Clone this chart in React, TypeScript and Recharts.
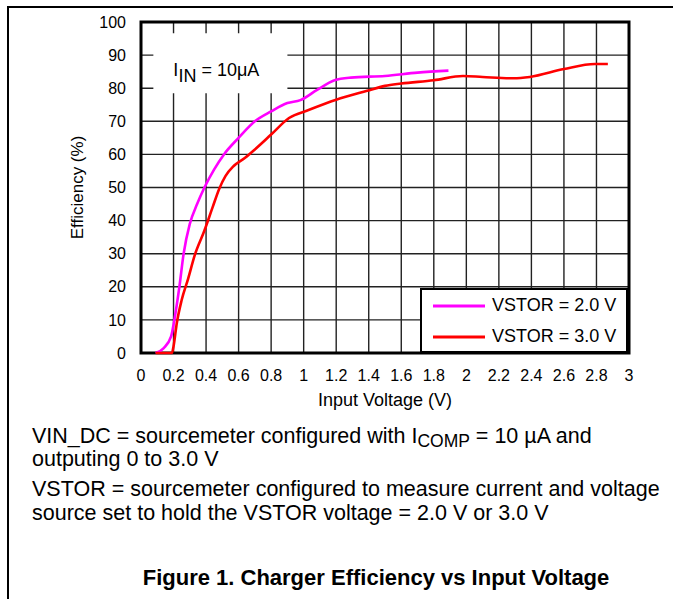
import React from "react";
import {
  LineChart,
  Line,
  XAxis,
  YAxis,
  CartesianGrid,
  ReferenceArea,
  Legend,
} from "recharts";

// input voltage (V) and efficiency (%)
const vstor2Volts = [0.09, 0.14, 0.185, 0.205, 0.236, 0.262, 0.3, 0.345, 0.39, 0.45, 0.51, 0.6, 0.7, 0.8, 0.9, 0.98, 1.08, 1.19, 1.29, 1.5, 1.7, 1.89];
const vstor2Eff = [0, 1.5, 5, 10, 20, 30, 39, 45, 50, 55.5, 60, 65, 70, 73, 75.5, 76.4, 79.4, 82.4, 83.2, 83.7, 84.7, 85.3];

const vstor3Volts = [0.09, 0.14, 0.19, 0.2, 0.22, 0.25, 0.29, 0.33, 0.39, 0.44, 0.48, 0.52, 0.57, 0.64, 0.7, 0.8, 0.91, 1.03, 1.2, 1.39, 1.5, 1.6, 1.8, 1.98, 2.1, 2.29, 2.39, 2.6, 2.79, 2.87];
const vstor3Eff = [0, 0, 0, 2, 9, 16, 22.5, 29.5, 37, 44, 49.5, 53.5, 56.5, 59, 61.5, 66, 71, 73.4, 76.5, 79.2, 80.7, 81.4, 82.4, 83.7, 83.4, 83.0, 83.4, 85.8, 87.3, 87.3];

const xTicks = [0, 0.2, 0.4, 0.6, 0.8, 1, 1.2, 1.4, 1.6, 1.8, 2, 2.2, 2.4, 2.6, 2.8, 3];
const xTickLabels = ["0", "0.2", "0.4", "0.6", "0.8", "1", "1.2", "1.4", "1.6", "1.8", "2", "2.2", "2.4", "2.6", "2.8", "3"];
const yTicks = [0, 10, 20, 30, 40, 50, 60, 70, 80, 90, 100];

const seriesNames = ["VSTOR = 2.0 V", "VSTOR = 3.0 V"];
const seriesColors = ["#ff00ff", "#ff0000"];

const toPoints = (xs: number[], ys: number[]) => xs.map((v, i) => ({ v, eff: ys[i] }));
const vstor2 = toPoints(vstor2Volts, vstor2Eff);
const vstor3 = toPoints(vstor3Volts, vstor3Eff);

const FONT = "'Liberation Sans', Arial, Helvetica, sans-serif";

function LegendBox() {
  return (
    <div
      style={{
        width: 208,
        height: 65,
        boxSizing: "border-box",
        border: "2px solid #000",
        background: "#fff",
        fontFamily: FONT,
        fontSize: 18,
        color: "#000",
      }}
    >
      {seriesNames.map((name, i) => (
        <div key={name} style={{ display: "flex", alignItems: "center", height: 31, paddingLeft: 11 }}>
          <svg width={54} height={6} style={{ marginRight: 5 }}>
            <line x1={0} y1={3} x2={52} y2={3} stroke={seriesColors[i]} strokeWidth={3} />
          </svg>
          <span>{name}</span>
        </div>
      ))}
    </div>
  );
}

export default function App() {
  return (
    <div
      style={{
        position: "absolute",
        left: 0,
        top: 0,
        width: 673,
        height: 599,
        background: "#fff",
        fontFamily: FONT,
        color: "#000",
        overflow: "hidden",
      }}
    >
      <div
        style={{
          position: "absolute",
          left: 7,
          top: 6,
          width: 680,
          height: 600,
          borderTop: "2px solid #000",
          borderLeft: "2px solid #000",
        }}
      />
      <div style={{ position: "absolute", left: 0, top: 0 }}>
        <LineChart width={673} height={420} margin={{ top: 22, right: 44, bottom: 0, left: 0 }}>
          <CartesianGrid stroke="#222" strokeWidth={1.4} />
          <XAxis
            type="number"
            dataKey="v"
            domain={[0, 3]}
            ticks={xTicks}
            tickFormatter={(v: number) => xTickLabels[xTicks.indexOf(v)] ?? String(v)}
            axisLine={false}
            tickLine={false}
            tickMargin={11}
            height={67}
            interval={0}
            tick={{ fontSize: 16, fill: "#000", fontFamily: FONT }}
            label={{
              content: ({ viewBox }: any) => (
                <text x={viewBox.x + viewBox.width / 2} y={406} textAnchor="middle" fontSize={18} fontFamily={FONT} fill="#000">
                  Input Voltage (V)
                </text>
              ),
            }}
          />
          <YAxis
            type="number"
            domain={[0, 100]}
            ticks={yTicks}
            width={141}
            axisLine={false}
            tickLine={false}
            tickMargin={9}
            interval={0}
            tick={{ fontSize: 16, fill: "#000", fontFamily: FONT }}
            label={{
              content: ({ viewBox }: any) => {
                const cy = viewBox.y + viewBox.height / 2;
                return (
                  <text
                    x={77}
                    y={cy}
                    transform={`rotate(-90 77 ${cy})`}
                    textAnchor="middle"
                    dominantBaseline="central"
                    fontSize={17}
                    fontFamily={FONT}
                    fill="#000"
                  >
                    Efficiency (%)
                  </text>
                );
              },
            }}
          />
          <ReferenceArea
            x1={0.076}
            x2={0.9}
            y1={78.5}
            y2={96.6}
            fill="#fff"
            fillOpacity={1}
            stroke="none"
            label={{
              content: ({ viewBox }: any) => (
                <text x={viewBox.x + 20} y={76} fontSize={18} fontFamily={FONT} fill="#000">
                  <tspan>I</tspan>
                  <tspan dy={6}>IN</tspan>
                  <tspan dy={-6}> = 10μA</tspan>
                </text>
              ),
            }}
          />
          <ReferenceArea x1={0} x2={3} y1={0} y2={100} fill="none" stroke="#000" strokeWidth={3} />
          <Line
            data={vstor2}
            dataKey="eff"
            name={seriesNames[0]}
            type="monotone"
            stroke={seriesColors[0]}
            strokeWidth={2.6}
            dot={false}
            activeDot={false}
            isAnimationActive={false}
          />
          <Line
            data={vstor3}
            dataKey="eff"
            name={seriesNames[1]}
            type="monotone"
            stroke={seriesColors[1]}
            strokeWidth={2.6}
            dot={false}
            activeDot={false}
            isAnimationActive={false}
          />
          <Legend
            layout="horizontal"
            verticalAlign="middle"
            align="center"
            content={() => <LegendBox />}
            wrapperStyle={{ left: 420, top: 288, width: 208, height: 65 }}
          />
        </LineChart>
      </div>
      <div style={{ position: "absolute", left: 32, top: 425, fontSize: 21.5, lineHeight: "23px", whiteSpace: "nowrap" }}>
        <div>
          VIN_DC = sourcemeter configured with I
          <sub style={{ fontSize: 17.5, verticalAlign: "-4px", lineHeight: 0 }}>COMP</sub> = 10 µA and
        </div>
        <div>outputing 0 to 3.0 V</div>
      </div>
      <div style={{ position: "absolute", left: 32, top: 477, fontSize: 21.5, lineHeight: "24px", whiteSpace: "nowrap" }}>
        <div>VSTOR = sourcemeter configured to measure current and voltage</div>
        <div>source set to hold the VSTOR voltage = 2.0 V or 3.0 V</div>
      </div>
      <div
        style={{
          position: "absolute",
          left: 376,
          top: 566,
          transform: "translateX(-50%)",
          fontSize: 22,
          lineHeight: "24px",
          fontWeight: "bold",
          whiteSpace: "nowrap",
        }}
      >
        Figure 1. Charger Efficiency vs Input Voltage
      </div>
    </div>
  );
}
